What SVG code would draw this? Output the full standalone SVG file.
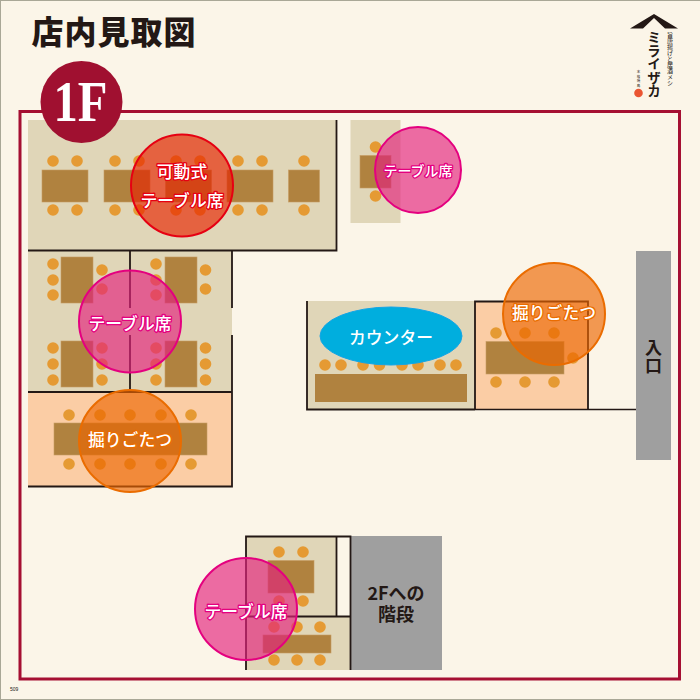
<svg xmlns="http://www.w3.org/2000/svg" width="700" height="700" viewBox="0 0 700 700">
<style>
.room{fill:#e0d6b8}.dig{fill:#fbcda5}.tb{fill:#b0823f;stroke:#c69c63;stroke-width:.6}
.ch{fill:#e59a33}
.w{fill:none;stroke:#231815;stroke-width:1.8}
.pk{fill:#e4217c;fill-opacity:.65;stroke:#e4007f;stroke-width:2}
.or{fill:#ec6600;fill-opacity:.65;stroke:#ea6c00;stroke-width:2}
.rd{fill:#e82300;fill-opacity:.65;stroke:#e60012;stroke-width:2}
text{font-family:"Noto Sans CJK JP","Noto Sans",sans-serif}
.lb{font-size:16.800px;font-weight:500;fill:#fff;text-anchor:middle;paint-order:stroke;stroke-width:2.6;stroke-linejoin:round}
.d{font-weight:700;fill:#231815;text-anchor:middle}
.v{writing-mode:vertical-rl;text-anchor:start}
</style>
<rect width="700" height="700" fill="#a9a796"/>
<rect x="1" y="1" width="699" height="698" fill="#fbf5e8"/>
<text x="114" y="44" font-size="32" font-weight="900" fill="#231815" text-anchor="middle" letter-spacing="1">店内見取図</text>
<rect id="frame" x="20" y="111.500" width="659.500" height="567.500" fill="none" stroke="#a50f32" stroke-width="3"/>

<g id="room-top">
<rect class="room" x="28" y="120" width="308" height="130"/>
<g class="tb"><rect x="42" y="170" width="46" height="32"/><rect x="104" y="170" width="46" height="32"/><rect x="165.500" y="170" width="46" height="32"/><rect x="227" y="170" width="46" height="32"/><rect x="288.500" y="170" width="31" height="32"/></g>
<g class="ch"><circle cx="53" cy="161" r="5.800"/><circle cx="77" cy="161" r="5.800"/><circle cx="115" cy="161" r="5.800"/><circle cx="139" cy="161" r="5.800"/><circle cx="176" cy="161" r="5.800"/><circle cx="200" cy="161" r="5.800"/><circle cx="238" cy="161" r="5.800"/><circle cx="262" cy="161" r="5.800"/><circle cx="304" cy="161" r="5.800"/><circle cx="53" cy="210" r="5.800"/><circle cx="77" cy="210" r="5.800"/><circle cx="115" cy="210" r="5.800"/><circle cx="139" cy="210" r="5.800"/><circle cx="176" cy="210" r="5.800"/><circle cx="200" cy="210" r="5.800"/><circle cx="238" cy="210" r="5.800"/><circle cx="262" cy="210" r="5.800"/><circle cx="304" cy="210" r="5.800"/></g>
</g>
<g id="room-small">
<rect class="room" x="350.500" y="120" width="50" height="103"/>
<rect class="tb" x="360" y="155.500" width="31" height="32.500"/>
<g class="ch"><circle cx="375.500" cy="147" r="5.800"/><circle cx="375.500" cy="196" r="5.800"/></g>
</g>
<g id="room-left">
<rect class="room" x="28" y="250" width="204" height="142"/>
<g class="tb"><rect x="61" y="257" width="32" height="46"/><rect x="165" y="257" width="32" height="46"/><rect x="61" y="341" width="32" height="46"/><rect x="165" y="341" width="32" height="46"/></g>
<g class="ch"><circle cx="53" cy="264" r="5.800"/><circle cx="53" cy="280" r="5.800"/><circle cx="53" cy="295" r="5.800"/><circle cx="102" cy="270" r="5.800"/><circle cx="102" cy="289" r="5.800"/><circle cx="156" cy="264" r="5.800"/><circle cx="156" cy="280" r="5.800"/><circle cx="156" cy="295" r="5.800"/><circle cx="205.500" cy="270" r="5.800"/><circle cx="205.500" cy="289" r="5.800"/><circle cx="53" cy="348" r="5.800"/><circle cx="53" cy="364" r="5.800"/><circle cx="53" cy="380" r="5.800"/><circle cx="102" cy="348" r="5.800"/><circle cx="102" cy="364" r="5.800"/><circle cx="102" cy="380" r="5.800"/><circle cx="156" cy="348" r="5.800"/><circle cx="156" cy="364" r="5.800"/><circle cx="156" cy="380" r="5.800"/><circle cx="205.500" cy="348" r="5.800"/><circle cx="205.500" cy="364" r="5.800"/><circle cx="205.500" cy="380" r="5.800"/></g>
</g>
<g id="room-dig-left">
<rect class="dig" x="28" y="393" width="204" height="93"/>
<rect class="tb" x="54" y="423" width="153" height="32"/>
<g class="ch"><circle cx="69" cy="415" r="5.800"/><circle cx="100" cy="415" r="5.800"/><circle cx="130" cy="415" r="5.800"/><circle cx="161" cy="415" r="5.800"/><circle cx="191" cy="415" r="5.800"/><circle cx="69" cy="464" r="5.800"/><circle cx="100" cy="464" r="5.800"/><circle cx="130" cy="464" r="5.800"/><circle cx="161" cy="464" r="5.800"/><circle cx="191" cy="464" r="5.800"/></g>
</g>
<g id="room-counter">
<rect class="room" x="307" y="301" width="168" height="108"/>
<rect x="315" y="374" width="152" height="28" fill="#b0823f"/>
<g class="ch"><circle cx="325" cy="365" r="5.800"/><circle cx="341" cy="365" r="5.800"/><circle cx="363" cy="365" r="5.800"/><circle cx="379.500" cy="365" r="5.800"/><circle cx="402" cy="365" r="5.800"/><circle cx="418" cy="365" r="5.800"/><circle cx="440" cy="365" r="5.800"/><circle cx="456" cy="365" r="5.800"/></g>
</g>
<g id="room-dig-right">
<rect class="dig" x="475" y="301" width="113" height="108"/>
<rect class="tb" x="486" y="341.500" width="78" height="32.500"/>
<g class="ch"><circle cx="496" cy="333" r="5.800"/><circle cx="525" cy="333" r="5.800"/><circle cx="554" cy="333" r="5.800"/><circle cx="573" cy="358" r="5.800"/><circle cx="496" cy="382" r="5.800"/><circle cx="525" cy="382" r="5.800"/><circle cx="554" cy="382" r="5.800"/></g>
</g>
<g id="room-bottom">
<rect class="room" x="246" y="536" width="90" height="80"/>
<rect class="room" x="246" y="616" width="104" height="54"/>
<rect class="tb" x="268" y="560.500" width="46" height="32.500"/>
<rect class="tb" x="263" y="635" width="68" height="18"/>
<g class="ch"><circle cx="279" cy="552" r="5.800"/><circle cx="303" cy="552" r="5.800"/><circle cx="279" cy="601" r="5.800"/><circle cx="303" cy="601" r="5.800"/><circle cx="274" cy="627" r="5.800"/><circle cx="297" cy="627" r="5.800"/><circle cx="320" cy="627" r="5.800"/><circle cx="274" cy="660" r="5.800"/><circle cx="297" cy="660" r="5.800"/><circle cx="320" cy="660" r="5.800"/></g>
</g>
<g id="stairs">
<rect x="350" y="536" width="92" height="134" fill="#9f9f9f"/>
<text class="d" font-size="18"><tspan x="396" y="600">2Fへの</tspan><tspan x="396" y="621">階段</tspan></text>
</g>
<g id="entrance">
<rect x="636" y="251" width="35" height="209" fill="#9f9f9f"/>
<text class="d v" x="653.500" y="339" font-size="17" style="text-anchor:start" letter-spacing="1.500">入口</text>
</g>
<g id="walls" class="w">
<path d="M336.500 120V250.500H28"/>
<path d="M130 250V308M130 335V392M232 250V308M232 335V392M28 392H232V486.500H28"/>
<path d="M307 301V409.500H475M475 409.500V301.500H588V409.500"/>
<path d="M475 409.500H636" stroke-width="1.400"/>
<path d="M246 670V536.500H350.500V670M336.500 536.500V616.500M246 616.500H350.500"/>
</g>
<g id="badge-1f">
<circle cx="81.500" cy="102" r="41" fill="#a01030"/>
<text x="80.500" y="121" font-size="57" font-weight="700" fill="#fff" text-anchor="middle" textLength="54" lengthAdjust="spacingAndGlyphs" style="font-family:'Liberation Serif',serif">1F</text>
</g>
<g id="logo" fill="#231815">
<path d="M630 28.500L654 14L678 28.500H665L654 18L643 28.500Z"/>
<text class="v" x="654" y="30" font-size="13.600" font-weight="700">ミライザカ</text>
<text class="v" x="670" y="32" font-size="6">旨唐揚げと居酒メシ</text>
<text class="v" x="638.500" y="70" font-size="3.500" letter-spacing="1">本格焼鳥</text>
<circle cx="638.500" cy="93" r="4.300" fill="#ea5532"/>
</g>
<g id="badge-movable">
<circle class="rd" cx="182" cy="185.500" r="51"/>
<text class="lb" stroke="#e60012" x="182" y="178">可動式</text>
<text class="lb" stroke="#e60012" x="182" y="207">テーブル席</text>
</g>
<g id="badge-small"><circle class="pk" cx="418" cy="170" r="43"/><text class="lb" stroke="#e4007f" x="418" y="176" style="font-size:14px">テーブル席</text></g>
<g id="badge-left"><circle class="pk" cx="130" cy="321.500" r="51"/><text class="lb" stroke="#e4007f" x="130" y="330">テーブル席</text></g>
<g id="badge-dig-left"><circle class="or" cx="130" cy="441" r="51"/><text class="lb" stroke="#ea6c00" x="130" y="446">掘りごたつ</text></g>
<g id="badge-dig-right"><circle class="or" cx="554" cy="314" r="51"/><text class="lb" stroke="#ea6c00" x="554" y="319">掘りごたつ</text></g>
<g id="badge-counter"><ellipse cx="391" cy="336" rx="71" ry="29" fill="#00aede" stroke="#14a5e6" stroke-width="1"/><text class="lb" stroke="#00aede" x="391" y="344">カウンター</text></g>
<g id="badge-bottom"><circle class="pk" cx="246" cy="609" r="51"/><text class="lb" stroke="#e4007f" x="246" y="618">テーブル席</text></g>
<text x="10" y="691" font-size="5" fill="#231815" style="font-family:'Liberation Sans',sans-serif">509</text>
</svg>
